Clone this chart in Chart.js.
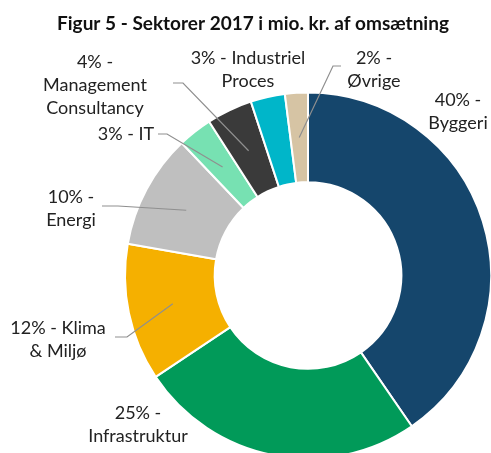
<!DOCTYPE html>
<html>
<head>
<meta charset="utf-8">
<script src="https://cdn.jsdelivr.net/npm/chart.js@4.4.1/dist/chart.umd.min.js"></script>
<style>
  html, body { margin: 0; padding: 0; background: #fff; overflow: hidden; }
  #wrap { width: 491px; height: 453px; overflow: hidden; position: relative; }
  canvas { display: block; }
</style>
</head>
<body>
<div id="wrap"><canvas id="sektor-chart" width="492" height="460"></canvas></div>
<script>
// Data
const sectors = ["Byggeri", "Infrastruktur", "Klima & Miljø", "Energi", "IT", "Management Consultancy", "Industriel Proces", "Øvrige"];
const shares = [40, 25, 12, 10, 3, 4, 3, 2];
// text after "NN% -" on line 1, then the following lines
const labelWraps = [
  ["", "Byggeri"],
  ["", "Infrastruktur"],
  [" Klima", "& Miljø"],
  ["", "Energi"],
  [" IT"],
  ["", "Management", "Consultancy"],
  [" Industriel", "Proces"],
  ["", "Øvrige"],
];
const colors = ["#15466c", "#019a59", "#f5b000", "#bfbfbf", "#77e1b2", "#3a3a3a", "#00b6c9", "#d6c4a4"];

// label placement (center of first line) and leader line start/elbow
const labelPos = [
  [458, 100], [138, 413], [58, 328], [71, 197], [126, 134], [95, 62], [248, 58], [374, 58],
];
const leaders = [
  null, null,
  [[115, 337], [127, 337]],
  [[102, 206], [118, 206]],
  [[158, 134], [167, 134]],
  [[173, 83], [183, 83]],
  null,
  [[341, 66], [333, 66]],
];

const FONT = "Lato, 'Open Sans', sans-serif";

const labelPlugin = {
  id: "sektorLabels",
  afterDraw(chart) {
    const ctx = chart.ctx;
    const arcs = chart.getDatasetMeta(0).data;
    ctx.save();
    // titel
    ctx.fillStyle = "#111";
    ctx.font = "bold 19px " + FONT;
    ctx.textAlign = "center";
    ctx.textBaseline = "middle";
    ctx.fillText("Figur 5 - Sektorer 2017 i mio. kr. af omsætning", 253, 24);

    // leader lines
    ctx.strokeStyle = "#8f8f8f";
    ctx.lineWidth = 1.2;
    leaders.forEach((ld, i) => {
      if (!ld) return;
      const end = arcs[i].getCenterPoint();
      ctx.beginPath();
      ctx.moveTo(ld[0][0], ld[0][1]);
      ctx.lineTo(ld[1][0], ld[1][1]);
      ctx.lineTo(end.x, end.y);
      ctx.stroke();
    });

    // labels
    ctx.fillStyle = "#222";
    ctx.font = "18px " + FONT;
    sectors.forEach((s, i) => {
      const parts = labelWraps[i];
      const lines = [shares[i] + "% -" + parts[0]].concat(parts.slice(1));
      lines.forEach((line, k) => {
        ctx.fillText(line, labelPos[i][0], labelPos[i][1] + k * 23);
      });
    });
    ctx.restore();
  },
};

new Chart(document.getElementById("sektor-chart"), {
  type: "doughnut",
  data: {
    labels: sectors,
    datasets: [
      {
        data: shares,
        backgroundColor: colors,
        borderColor: "#ffffff",
        borderWidth: 2,
      },
    ],
  },
  options: {
    responsive: false,
    animation: false,
    cutout: "51%",
    layout: { padding: { left: 124, right: 0, top: 91.5, bottom: 0.5 } },
    plugins: {
      legend: { display: false },
      tooltip: { enabled: false },
    },
  },
  plugins: [labelPlugin],
});
</script>
</body>
</html>
